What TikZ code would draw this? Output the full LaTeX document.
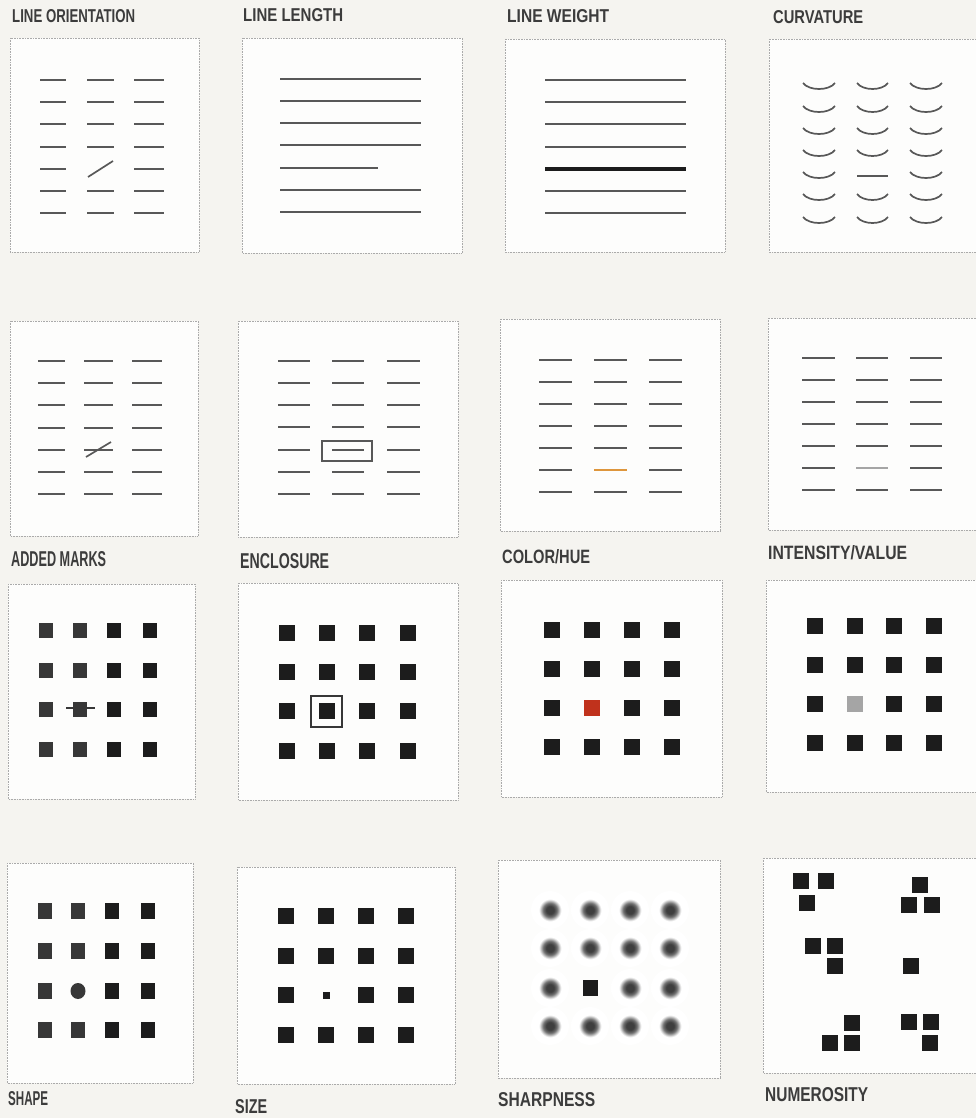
\documentclass[tikz,border=0pt]{standalone}
\usepackage{fontspec}
\setmainfont{Liberation Sans}
\usepackage{graphicx}
\definecolor{bgc}{RGB}{245,244,240}
\definecolor{panelc}{RGB}{253,253,252}
\definecolor{borderc}{RGB}{170,170,170}
\definecolor{linec}{RGB}{88,88,88}
\definecolor{labc}{RGB}{60,60,60}
\definecolor{sqc}{RGB}{28,28,28}
\definecolor{sqlc}{RGB}{55,55,55}
\definecolor{orangec}{RGB}{222,150,60}
\definecolor{redc}{RGB}{192,50,28}
\definecolor{greyc}{RGB}{165,165,165}
\definecolor{dotc}{RGB}{62,62,62}
\definecolor{dotm}{RGB}{110,110,110}
\pgfdeclareradialshading{blurdot}{\pgfpoint{0bp}{0bp}}{color(0bp)=(dotc); color(5bp)=(dotc); color(9bp)=(dotm); color(14.5bp)=(white); color(50bp)=(white)}
\newcommand{\mylab}[3]{\resizebox{#1}{#2}{\bfseries #3}}
\tikzset{
  panel/.style={fill=panelc, draw=borderc, densely dotted, line width=0.6pt},
  seg/.style={draw=linec, line width=1.7pt},
  sq/.style={fill=sqc},
  lab/.style={anchor=west, inner sep=0pt, text=labc},
}
\begin{document}
\begin{tikzpicture}[x=1pt,y=-1pt]
\clip (0,0) rectangle (976,1118);
\fill[bgc] (0,0) rectangle (976,1118);

% ---------- panels ----------
\draw[panel] (10,38) rectangle (199,252);
\draw[panel] (242,38) rectangle (462,253);
\draw[panel] (505,39) rectangle (725,252);
\draw[panel] (769,39) rectangle (992,252);
\draw[panel] (10,321) rectangle (198,536);
\draw[panel] (238,321) rectangle (458,537);
\draw[panel] (500,319) rectangle (720,531);
\draw[panel] (768,318) rectangle (992,530);
\draw[panel] (8,584) rectangle (195,799);
\draw[panel] (238,583) rectangle (458,800);
\draw[panel] (501,580) rectangle (722,797);
\draw[panel] (766,580) rectangle (992,792);
\draw[panel] (7,863) rectangle (193,1083);
\draw[panel] (237,867) rectangle (455,1084);
\draw[panel] (498,860) rectangle (720,1078);
\draw[panel] (763,858) rectangle (992,1073);

% ---------- labels ----------
\node[lab] (t1) at (12,16) {\mylab{123pt}{13pt}{LINE ORIENTATION}};
\node[lab] (t2) at (243,15) {\mylab{100pt}{13pt}{LINE LENGTH}};
\node[lab] (t3) at (507,16) {\mylab{102pt}{13pt}{LINE WEIGHT}};
\node[lab] (t4) at (773,17) {\mylab{90pt}{13pt}{CURVATURE}};
\node[lab] (t5) at (11,559) {\mylab{95pt}{15pt}{ADDED MARKS}};
\node[lab] (t6) at (240,561) {\mylab{89pt}{15pt}{ENCLOSURE}};
\node[lab] (t7) at (502,557) {\mylab{88pt}{14pt}{COLOR/HUE}};
\node[lab] (t8) at (768,553) {\mylab{139pt}{14pt}{INTENSITY/VALUE}};
\node[lab] (t9) at (8,1099) {\mylab{40pt}{14pt}{SHAPE}};
\node[lab] (t10) at (235,1107) {\mylab{32pt}{14pt}{SIZE}};
\node[lab] (t11) at (498,1100) {\mylab{97pt}{14pt}{SHARPNESS}};
\node[lab] (t12) at (765,1095) {\mylab{103pt}{14pt}{NUMEROSITY}};

% ---------- P1 line orientation ----------
\foreach \y [count=\r] in {80,102,124,147,169,191,213}{
  \foreach \a/\b [count=\c] in {40/66,87/114,134/164}{
    \ifnum\r\c=52 \else \draw[seg] (\a,\y) -- (\b,\y); \fi
  }
}
\draw[seg] (88,177) -- (113,161);

% ---------- P2 line length ----------
\foreach \y [count=\r] in {79,101,123,145,168,190,212}{
  \ifnum\r=5 \draw[seg] (280,\y) -- (378,\y); \else \draw[seg] (280,\y) -- (421,\y); \fi
}

% ---------- P3 line weight ----------
\foreach \y [count=\r] in {80,102,124,147,169,191,213}{
  \ifnum\r=5 \draw[draw=sqc, line width=3.8pt] (545,\y) -- (686,\y); \else \draw[seg] (545,\y) -- (686,\y); \fi
}

% ---------- P4 curvature ----------
\foreach \y [count=\r] in {83,106,128,150,172,194,217}{
  \foreach \a/\b [count=\c] in {803/835,857/888,910/942}{
    \ifnum\r\c=52 \draw[seg] (\a,\y+4) -- (\b,\y+4);
    \else \draw[seg] (\a,\y) .. controls (\a+6,\y+8) and (\b-6,\y+8) .. (\b,\y); \fi
  }
}

% ---------- P5 added marks ----------
\foreach \y in {361,383,405,428,450,472,494}{
  \foreach \a/\b in {38/65,84/113,132/162}{ \draw[seg] (\a,\y) -- (\b,\y); }
}
\draw[seg] (86,457) -- (111,442);

% ---------- P6 enclosure ----------
\foreach \y in {361,383,405,427,450,472,494}{
  \foreach \a/\b in {278/310,332/364,387/420}{ \draw[seg] (\a,\y) -- (\b,\y); }
}
\draw[draw=linec, line width=1.3pt] (322,441) rectangle (372,461);

% ---------- P7 color/hue ----------
\foreach \y [count=\r] in {360,382,404,426,448,470,492}{
  \foreach \a/\b [count=\c] in {539/572,594/627,649/682}{
    \ifnum\r\c=62 \draw[draw=orangec, line width=1.7pt] (\a,\y) -- (\b,\y);
    \else \draw[seg] (\a,\y) -- (\b,\y); \fi
  }
}

% ---------- P8 intensity/value ----------
\foreach \y [count=\r] in {358,380,402,424,446,468,490}{
  \foreach \a/\b [count=\c] in {802/835,856/888,910/942}{
    \ifnum\r\c=62 \draw[draw=greyc, line width=1.3pt] (\a,\y) -- (\b,\y);
    \else \draw[seg] (\a,\y) -- (\b,\y); \fi
  }
}

% ---------- P9 added marks (squares) ----------
\foreach \y in {630,670,709,749}{
  \foreach \x/\cc in {46/sqlc,80/sqlc,114/sqc,150/sqc}{
    \fill[\cc] (\x-7,\y-7.5) rectangle (\x+7,\y+7.5);
  }
}
\draw[draw=sqlc, line width=1.5pt] (66,708) -- (95,708);

% ---------- P10 enclosure (squares) ----------
\foreach \y in {633,672,711,751}{
  \foreach \x in {287,327,367,408}{ \fill[sq] (\x-8,\y-8) rectangle (\x+8,\y+8); }
}
\draw[draw=sqlc, line width=1.3pt] (311,696) rectangle (342,727);

% ---------- P11 color/hue (squares) ----------
\foreach \y [count=\r] in {630,669,708,747}{
  \foreach \x [count=\c] in {552,592,632,672}{
    \ifnum\r\c=32 \fill[redc] (\x-8,\y-8) rectangle (\x+8,\y+8);
    \else \fill[sq] (\x-8,\y-8) rectangle (\x+8,\y+8); \fi
  }
}

% ---------- P12 intensity/value (squares) ----------
\foreach \y [count=\r] in {626,665,704,743}{
  \foreach \x [count=\c] in {815,855,894,934}{
    \ifnum\r\c=32 \fill[greyc] (\x-8,\y-8) rectangle (\x+8,\y+8);
    \else \fill[sq] (\x-8,\y-8) rectangle (\x+8,\y+8); \fi
  }
}

% ---------- P13 shape ----------
\foreach \y [count=\r] in {911,951,991,1030}{
  \foreach \x/\cc [count=\c] in {45/sqlc,78/sqlc,112/sqc,148/sqc}{
    \ifnum\r\c=32 \fill[sqlc] (\x,\y) ellipse (7.5 and 8);
    \else \fill[\cc] (\x-7,\y-8) rectangle (\x+7,\y+8); \fi
  }
}

% ---------- P14 size ----------
\foreach \y [count=\r] in {916,956,995,1035}{
  \foreach \x [count=\c] in {286,326,366,406}{
    \ifnum\r\c=32 \fill[sq] (\x-3.5,\y-3.5) rectangle (\x+3.5,\y+3.5);
    \else \fill[sq] (\x-8,\y-8) rectangle (\x+8,\y+8); \fi
  }
}

% ---------- P15 sharpness ----------
\foreach \y [count=\r] in {910,948,988,1026}{
  \foreach \x [count=\c] in {550,590,630,670}{
    \ifnum\r\c=32 \fill[sq] (\x-7.5,\y-8) rectangle (\x+7.5,\y+8);
    \else \shade[shading=blurdot] (\x,\y) circle (19); \fi
  }
}

% ---------- P16 numerosity ----------
\foreach \x/\y in {801/881,826/881,807/903,
                   920/885,909/905,932/905,
                   813/946,835/946,835/966,
                   911/966,
                   852/1023,830/1043,852/1043,
                   909/1022,931/1022,930/1043}{
  \fill[sq] (\x-8,\y-8) rectangle (\x+8,\y+8);
}
\end{tikzpicture}
\end{document}
